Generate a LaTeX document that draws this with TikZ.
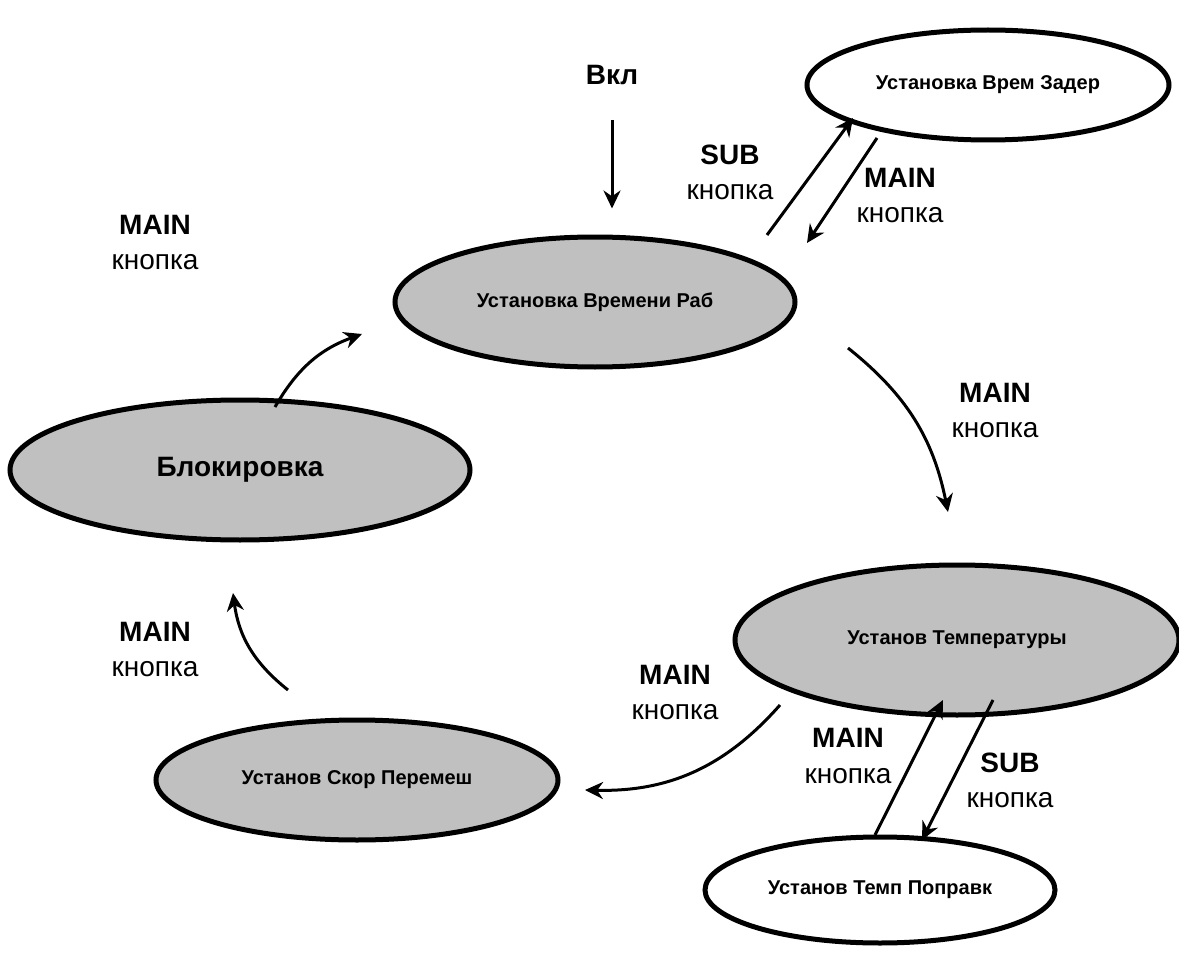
\documentclass[tikz,border=0pt]{standalone}
\usepackage{fontspec}
\setmainfont{Liberation Sans}
\usetikzlibrary{positioning,shapes.geometric,arrows.meta,calc}
\definecolor{stategray}{RGB}{192,192,192}

\begin{document}
\begin{tikzpicture}[x=0.5pt,y=-0.5pt,
    state/.style={ellipse,draw,line width=2.5pt,fill=stategray,inner sep=0pt,font=\fontsize{10}{12}\selectfont\bfseries},
    substate/.style={state,fill=white},
    btn/.style={align=center,font=\fontsize{14}{17.5}\selectfont},
    arrow/.style={-{Stealth[length=9pt,width=8.5pt]},line width=1.5pt}
]
\useasboundingbox (0,0) rectangle (1179,974);

% States
\node[state,minimum width=200pt,minimum height=65pt] (rab) at (595,302) {Установка Времени Раб};
\node[substate,minimum width=181pt,minimum height=55pt] (zader) at (988,85) {Установка Врем Задер};
\node[state,minimum width=230pt,minimum height=70pt,font=\fontsize{14}{17}\selectfont\bfseries] (blok) at (240,470) {Блокировка};
\node[state,minimum width=222pt,minimum height=75pt] (temp) at (957,640) {Установ Температуры};
\node[state,minimum width=201pt,minimum height=60pt] (skor) at (357,780) {Установ Скор Перемеш};
\node[substate,minimum width=175pt,minimum height=53pt] (popr) at (880,890) {Установ Темп Поправк};

% Power on
\node[btn,font=\fontsize{14}{17}\selectfont\bfseries] (vkl) at (612,75) {Вкл};
\draw[arrow,shorten <=14pt,shorten >=13pt] (vkl) -- (vkl |- rab.north);

% Button labels
\node[btn] (lSubZ) at (730,172) {\textbf{SUB}\\кнопка};
\node[btn] (lMainZ) at (900,196) {\textbf{MAIN}\\кнопка};
\node[btn] (lMainB) at (155,243) {\textbf{MAIN}\\кнопка};
\node[btn] (lMainT) at (995,411) {\textbf{MAIN}\\кнопка};
\node[btn] (lMainS) at (675,693) {\textbf{MAIN}\\кнопка};
\node[btn] (lMainK) at (155,650) {\textbf{MAIN}\\кнопка};
\node[btn] (lMainP) at (848,756) {\textbf{MAIN}\\кнопка};
\node[btn] (lSubP) at (1010,780) {\textbf{SUB}\\кнопка};

% Sub menus
\draw[arrow] ($(rab)+(172,-67)$) -- ($(zader)+(-135,33)$);
\draw[arrow] ($(zader)+(-111,53)$) -- ($(rab)+(212,-59)$);
\draw[arrow] ($(popr)+(-5,-55)$) -- ($(temp)+(-14,60)$);
\draw[arrow] ($(temp)+(36,60)$) -- ($(popr)+(42,-50)$);

% Main cycle
\draw[arrow] ($(rab)+(253,46)$) to[bend left=20] ($(temp)+(-9,-128)$);
\draw[arrow] ($(temp)+(-177,65)$) to[bend left=25] ($(skor)+(228,10)$);
\draw[arrow] ($(skor)+(-69,-90)$) to[bend left=22] ($(blok)+(-7,123)$);
\draw[arrow] ($(blok)+(35,-63)$) to[bend left=20] ($(rab)+(-233,32)$);

\end{tikzpicture}
\end{document}
